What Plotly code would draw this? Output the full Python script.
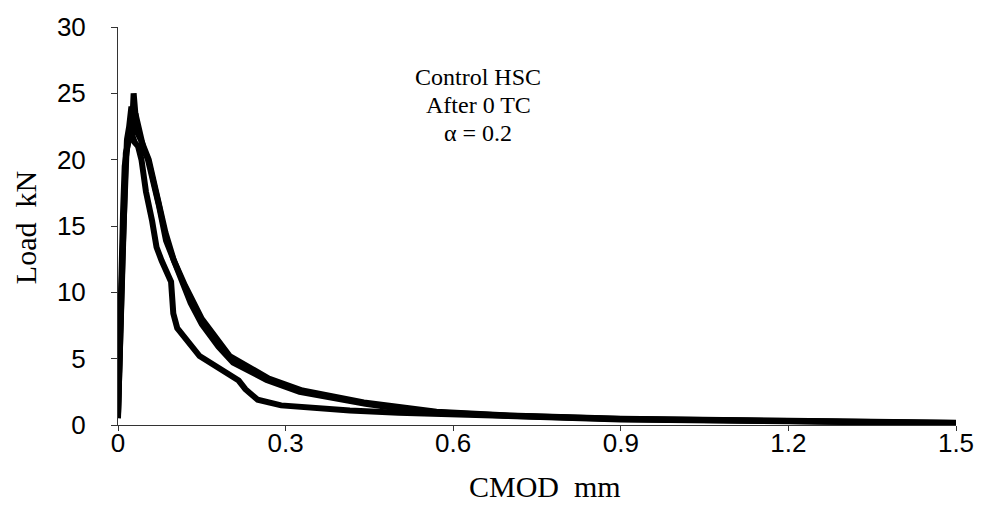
import plotly.graph_objects as go

# Load–CMOD curves for three control HSC specimens after 0 thermal cycles
cmod_1 = [0.000, 0.002, 0.004, 0.005, 0.008, 0.010, 0.013, 0.016, 0.020, 0.024, 0.026,
          0.028, 0.031, 0.035, 0.040, 0.047, 0.053, 0.064, 0.073, 0.086, 0.100, 0.115,
          0.130, 0.150, 0.180, 0.206, 0.266, 0.325, 0.355, 0.443, 0.502, 0.573, 0.700,
          0.900, 1.200, 1.500]
load_1 = [0.5, 4.0, 8.0, 12.0, 12.6, 15.0, 19.0, 21.5, 22.5, 24.0, 23.2,
          25.0, 23.5, 22.8, 21.5, 20.6, 20.1, 18.4, 16.6, 13.9, 12.4, 10.8,
          9.2, 7.6, 5.9, 4.7, 3.4, 2.5, 2.25, 1.6, 1.25, 0.95, 0.70,
          0.45, 0.30, 0.15]

cmod_2 = [0.000, 0.002, 0.004, 0.006, 0.009, 0.012, 0.016, 0.020, 0.024, 0.028, 0.031,
          0.035, 0.042, 0.055, 0.070, 0.085, 0.100, 0.120, 0.150, 0.200, 0.270,
          0.330, 0.440, 0.500, 0.570, 0.700, 0.900, 1.200, 1.500]
load_2 = [0.8, 5.0, 9.0, 12.5, 16.0, 19.5, 21.0, 22.0, 21.6, 23.0, 23.5,
          22.0, 21.4, 20.0, 17.3, 14.5, 12.4, 10.5, 8.0, 5.2, 3.5,
          2.6, 1.7, 1.35, 1.0, 0.72, 0.47, 0.32, 0.17]

cmod_3 = [0.000, 0.002, 0.004, 0.006, 0.008, 0.011, 0.014, 0.018, 0.024, 0.030, 0.036,
          0.042, 0.050, 0.061, 0.069, 0.078, 0.095, 0.099, 0.106, 0.146, 0.216,
          0.228, 0.250, 0.292, 0.325, 0.415, 0.502, 0.573, 0.700, 0.900, 1.200,
          1.500]
load_3 = [0.7, 4.0, 8.0, 11.0, 13.0, 17.0, 20.5, 21.2, 22.0, 21.3, 21.0,
          20.0, 17.6, 15.4, 13.4, 12.4, 10.8, 8.4, 7.3, 5.2, 3.35,
          2.7, 1.9, 1.48, 1.36, 1.1, 0.92, 0.85, 0.65, 0.42, 0.28,
          0.12]

x_ticks = [0, 0.3, 0.6, 0.9, 1.2, 1.5]
x_tick_text = ["0", "0.3", "0.6", "0.9", "1.2", "1.5"]
y_ticks = [0, 5, 10, 15, 20, 25, 30]

note_lines = ["Control HSC", "After 0 TC", "α = 0.2"]
note_y = [26.2, 24.1, 22.0]

fig = go.Figure()
for xs, ys in [(cmod_3, load_3), (cmod_2, load_2), (cmod_1, load_1)]:
    fig.add_trace(go.Scatter(
        x=xs, y=ys, mode="lines",
        line=dict(color="#000000", width=6),
        showlegend=False, cliponaxis=False,
    ))

serif = "Liberation Serif, Times New Roman, serif"
for text, yv in zip(note_lines, note_y):
    fig.add_annotation(
        x=0.645, y=yv, xref="x", yref="y",
        text=text, showarrow=False,
        xanchor="center", yanchor="middle",
        font=dict(family=serif, size=24, color="#000"),
    )

title_font = dict(family=serif, size=30, color="#000")
# axis titles placed as paper-anchored text
fig.add_annotation(
    x=0.509, y=-0.155, xref="paper", yref="paper",
    text="CMOD&nbsp;&nbsp;mm", showarrow=False, font=title_font,
    xanchor="center", yanchor="middle",
)
fig.add_annotation(
    x=-0.111, y=0.497, xref="paper", yref="paper",
    text="Load&nbsp;&nbsp;kN", showarrow=False, font=title_font, textangle=-90,
    xanchor="center", yanchor="middle",
)

tick_font = dict(family="Liberation Sans, Arial, sans-serif", size=26, color="#000")

fig.update_layout(
    width=986, height=509,
    margin=dict(l=118, r=24, t=25, b=84),
    paper_bgcolor="white", plot_bgcolor="white",
    xaxis=dict(
        range=[0, 1.5], tickvals=x_ticks, ticktext=x_tick_text,
        showgrid=False, zeroline=False, showline=True,
        linecolor="#333", linewidth=1,
        ticks="outside", ticklen=5, tickcolor="#333",
        tickfont=tick_font, ticklabelstandoff=-10,
    ),
    yaxis=dict(
        range=[0, 30], tickvals=y_ticks,
        showgrid=False, zeroline=False, showline=True,
        linecolor="#333", linewidth=1,
        ticks="outside", ticklen=6, tickcolor="#333",
        tickfont=tick_font, ticklabelstandoff=20,
    ),
)

fig.write_html("out.html")
